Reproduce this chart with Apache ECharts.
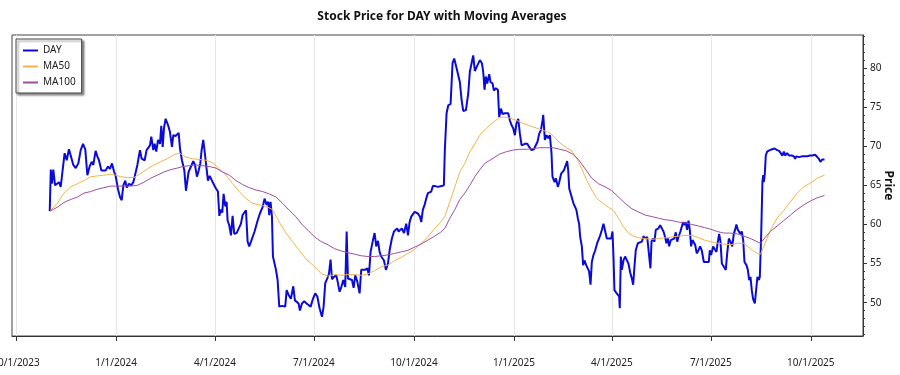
<!DOCTYPE html>
<html>
<head>
<meta charset="utf-8">
<script src="https://cdn.jsdelivr.net/npm/echarts@6/dist/echarts.min.js"></script>
<style>
  html, body { margin: 0; padding: 0; background: #fff; }
  #main { width: 900px; height: 375px; }
</style>
</head>
<body>
<div id="main"></div>
<script>
// day offsets are counted from 10/1/2023
const START = Date.UTC(2023, 9, 1);
const DAY_MS = 86400000;

const quarterTicks = ['2023-10-01', '2024-01-01', '2024-04-01', '2024-07-01', '2024-10-01',
  '2025-01-01', '2025-04-01', '2025-07-01', '2025-10-01'];
const priceTicks = [50, 55, 60, 65, 70, 75, 80];

const dayOffset = [
  31, 32, 33, 34.3, 35.9, 39.5, 41.1, 42.6, 44.7, 46.6, 48.7, 50.3, 52.7, 54.9, 57.3, 59.5, 61.6, 63.7,
  65.6, 67.7, 69.6, 71.1, 73.2, 74.8, 76.3, 78.5, 80.3, 82.4, 84.6, 86.4, 88.3, 90.1, 91.6, 93.8, 95.6,
  97.2, 98.7, 100.5, 101.8, 103.9, 106, 107.9, 109.1, 111.6, 114, 115.5, 117.1, 118.3, 120.1, 121.7,
  123.2, 124.4, 126.3, 127.5, 129, 130.6, 132.4, 133.6, 134.9, 136.1, 137.6, 139.8, 141.6, 143.4, 144.7,
  146.8, 149.6, 150.8, 152.6, 154.8, 156.3, 157.5, 158.7, 160.9, 163, 164.6, 166.4, 168, 169.5, 170.7,
  172.2, 173.5, 174.7, 176.5, 178.1, 180.2, 182.3, 183.9, 185.7, 187, 188.5, 189.7, 190.9, 192.5, 193.7,
  194.6, 196.1, 197.7, 199.2, 200.7, 202.9, 204.7, 206.9, 208.4, 209.9, 211.5, 213, 214.5, 216.1, 217.6,
  219.4, 220.7, 222.2, 224.3, 226.8, 228.6, 230.5, 232, 232.9, 234.1, 235.4, 236.3, 239.1, 240.6, 242.1,
  244.6, 247.6, 248.9, 250.7, 252.8, 255, 256.5, 258, 259.9, 261.1, 263, 265.1, 267.2, 268.5, 271, 273.1,
  275.2, 277.1, 279.2, 281.4, 282.9, 284.4, 286.3, 287.8, 289.3, 290.6, 292.4, 294.6, 296.1, 297.6, 299.2,
  301, 302.8, 304.1, 305.3, 307.1, 309, 310.5, 312, 313.9, 316, 317.5, 319.1, 321.2, 323.1, 324.6, 326.1,
  328.3, 329.8, 331.3, 332.9, 334.4, 335.9, 338.4, 340.2, 342.1, 343.6, 345.7, 347.6, 348.8, 350.6, 351.9,
  353.7, 354.9, 356.8, 358.9, 360.5, 362, 363.5, 365, 366.6, 368.1, 369.6, 371.5, 372.7, 374.2, 375.8,
  377.3, 378.8, 380.4, 381.9, 383.4, 385.6, 388, 391.4, 393.5, 394.4, 396, 397.5, 399.7, 401.5, 403,
  404.6, 406.7, 408.2, 409.8, 411.3, 413.8, 415.9, 417.4, 419, 420.5, 422, 423.6, 425.1, 426.6, 428.5,
  429.7, 430.9, 432.1, 433.4, 435.2, 436.4, 438.3, 439.5, 441.3, 443.2, 444.4, 446, 447.5, 449.6, 451.1,
  452.7, 454.2, 455.7, 457.3, 458.8, 460.3, 461.9, 463.4, 465, 466.5, 468, 470.2, 472, 474.1, 476.3,
  478.1, 479.7, 481.2, 482.7, 484.3, 484.9, 486.4, 488, 489.5, 491, 492.5, 493.4, 495.3, 496.5, 498.4,
  499.6, 501.4, 502.6, 503.9, 505.7, 506.9, 507.9, 508.8, 510.6, 512.7, 514.3, 515.5, 516.7, 517.9, 518.9,
  520.4, 521.6, 522.8, 524.4, 525.9, 527.1, 528.4, 529.6, 531.1, 532.7, 534.5, 535.7, 537.3, 538.8, 540.3,
  541.9, 543.4, 545.5, 547.4, 548.6, 549.5, 550.4, 552, 553.5, 554.7, 555.3, 556.3, 557.2, 558.7, 560.2,
  561.8, 563.3, 564.8, 566.4, 567.6, 568.8, 570, 571.9, 573.7, 575.6, 577.1, 578.6, 580.5, 582.3, 583.5,
  584.5, 585.7, 587.2, 588.4, 589.7, 590.9, 592.4, 594, 595.5, 597, 598.2, 599.5, 600.7, 602.2, 603.8,
  605.3, 606.8, 608.1, 609.3, 611.1, 612.3, 613.6, 614.8, 616, 617.2, 618.5, 619.7, 620.9, 622.2, 623.4,
  624.6, 626.1, 627.7, 629.2, 630.7, 632.6, 635.1, 637.2, 638.1, 639.3, 641.2, 642.7, 644.2, 645.5, 646.7,
  647.9, 649.2, 651, 652.8, 654.1, 655.6, 657.1, 658.7, 660.2, 661.7, 662.6, 663.9, 665.1, 666.3, 667.5,
  668.8, 670, 671.8, 673.1, 674.3, 675.5, 676.7, 677.9, 679.5, 680.7, 681.9, 683.2, 684.1, 685.3, 686.5,
  687.2, 687.8, 688.7, 689.6, 690.8, 693.3, 695.4, 697.6, 700, 701.9, 703.7, 704.9, 706.2, 707.4, 709.2,
  711.1, 713.5, 715.4, 716.6, 717.8, 720.3, 722.7, 725.2, 727.6, 730.1, 732.5, 735, 736.8, 738.3, 739.9,
  741.4, 743.6
];
const dayClose = [
  61.7, 67.0, 65.2, 67.0, 65.0, 65.4, 64.8, 64.6, 69.1, 68.2, 69.6, 69.8, 67.6, 67.2, 67.8, 69.5, 70.3, 69.6,
  66.3, 67.4, 68.0, 67.6, 69.4, 68.7, 68.2, 66.9, 67.1, 66.9, 67.4, 67.1, 67.8, 66.8, 66.2, 64.5, 63.5,
  63.1, 65.0, 65.6, 64.7, 65.2, 65.0, 65.4, 66.1, 67.6, 69.5, 68.4, 68.6, 68.2, 69.5, 69.5,
  70.1, 71.2, 69.5, 70.3, 69.3, 70.8, 70.3, 72.6, 69.9, 72.3, 73.5, 72.7, 71.8, 69.9, 71.4,
  71.3, 71.7, 69.7, 68.2, 66.9, 64.3, 64.3, 66.7, 67.4, 68.1, 67.6, 66.1, 66.9, 67.8, 69.5,
  70.8, 69.3, 67.8, 65.6, 66.2, 65.6, 65.0, 64.6, 64.2, 61.1, 61.9, 61.5, 63.9, 62.3, 62.9,
  60.5, 59.9, 58.6, 61.1, 58.8, 58.9, 59.1, 60.1, 61.2, 61.5, 61.8, 57.8, 57.2, 57.8, 58.0,
  59.1, 58.9, 60.5, 61.4, 62.2, 63.3, 62.5, 62.9, 61.2, 62.9, 61.0, 55.9, 54.2, 52.9, 49.5,
  49.6, 49.5, 51.6, 51.0, 50.5, 52.1, 50.3, 50.2, 49.9, 49.0, 49.9, 50.2, 49.9, 49.7, 49.5, 50.5,
  51.2, 50.8, 49.3, 48.2, 49.5, 52.5, 53.1, 53.7, 55.5, 53.0, 53.3, 53.5, 52.5, 51.4, 52.0,
  52.9, 52.0, 59.1, 53.1, 53.0, 52.9, 51.9, 53.5, 52.7, 51.2, 54.2, 54.3, 54.2, 54.4, 53.5, 56.5,
  58.0, 58.9, 57.2, 57.9, 56.5, 55.9, 55.4, 54.2, 55.0, 56.7, 58.2, 59.1, 59.3, 59.5, 59.1,
  59.1, 59.5, 58.9, 60.1, 58.6, 60.3, 61.0, 61.2, 61.6, 61.8, 61.4, 61.0, 60.3, 61.9, 62.5,
  63.3, 64.0, 63.8, 64.2, 64.9, 64.9, 64.8, 64.9, 65.0, 69.5, 74.2, 75.2, 75.4, 80.6, 81.2,
  80.3, 79.1, 78.2, 75.9, 74.5, 74.6, 76.7, 79.5, 80.6, 81.6, 79.6, 80.1, 80.3, 81.0, 80.6,
  79.5, 77.2, 78.9, 78.0, 79.2, 78.2, 78.0, 77.1, 77.4, 77.2, 73.7, 74.8, 74.1, 74.2, 74.0,
  74.2, 73.3, 72.7, 72.3, 71.4, 72.9, 73.5, 71.6, 70.1, 70.1, 70.3, 70.3, 69.9, 69.5, 69.6,
  69.6, 70.6, 71.6, 72.0, 73.3, 74.0, 70.8, 71.4, 71.0, 71.4, 69.1, 66.1, 65.4, 65.9, 64.8,
  65.4, 66.5, 66.7, 66.9, 67.6, 68.1, 66.9, 64.6, 64.5, 62.7, 62.2, 61.8, 60.8, 60.1, 58.4,
  57.2, 54.8, 55.4, 54.8, 54.6, 54.0, 52.3, 55.2, 56.1, 56.7, 57.6, 57.8, 58.6, 59.3, 60.1,
  59.9, 58.2, 58.2, 58.2, 59.1, 55.9, 51.6, 51.3, 51.2, 50.8, 49.3, 55.9, 54.2, 55.4, 55.9,
  56.1, 55.0, 53.9, 53.1, 52.3, 54.6, 56.7, 57.6, 57.4, 57.8, 58.5, 58.2, 58.4, 58.2, 54.4,
  57.8, 58.2, 57.8, 59.3, 59.1, 59.5, 59.9, 59.5, 59.1, 58.4, 57.6, 58.2, 57.2, 58.0, 57.8,
  58.2, 59.0, 57.8, 58.4, 59.1, 59.7, 60.3, 59.9, 60.3, 59.3, 60.5, 59.3, 57.2, 58.0, 58.2,
  57.4, 56.3, 56.7, 57.2, 56.7, 55.2, 55.2, 55.2, 56.7, 56.1, 57.2, 56.8, 56.5, 57.8, 58.8,
  57.8, 55.0, 54.8, 54.2, 56.3, 58.2, 57.8, 57.2, 58.8, 59.5, 60.0, 59.3, 59.5, 58.8, 59.1,
  58.0, 55.2, 54.8, 54.2, 52.9, 53.3, 51.6, 50.5, 49.9, 51.6, 53.3, 52.9, 53.3, 58.4, 65.4,
  66.3, 65.4, 66.5, 68.8, 69.3, 69.5, 69.6, 69.7, 69.5, 69.4, 69.3, 68.8, 69.3, 68.8, 69.1,
  68.8, 68.8, 68.7, 68.4, 68.7, 68.6, 68.7, 68.7, 68.7, 68.8, 68.8, 68.9, 68.8, 68.4, 68.0,
  68.3, 68.3
];

const ma50Offset = [
  31.3, 38, 44.1, 50.3, 56.4, 62.5, 68.6, 74.8, 80.9, 87, 91.6, 96.2, 102.4, 108.5, 114.6, 120.8, 126.9,
  133, 139.1, 145.3, 150.5, 156.3, 162.4, 168.6, 174.7, 180.8, 187, 193.1, 199.2, 205.3, 211.5, 217.6,
  223.7, 229.9, 236, 242.1, 248.3, 254.4, 260.5, 266.6, 274.6, 280.8, 286.9, 293, 299.2, 305.3, 311.4,
  317.5, 323.7, 329.8, 335.9, 342.1, 348.2, 354.3, 360.5, 366.6, 372.7, 378.8, 385, 390, 394.4, 399,
  403.6, 408.2, 412.8, 417.4, 422, 426.6, 431.2, 435.8, 440.4, 445, 449.6, 454.2, 460.3, 466.5, 472.6,
  478.7, 484.9, 491, 495.6, 500.2, 506.3, 511.2, 515.8, 520.4, 525, 529.6, 534.2, 538.8, 544.9, 549.5,
  554.1, 558.7, 563.3, 567.9, 572.5, 578.6, 584.8, 590.9, 597, 603.2, 609.3, 615.4, 621.5, 627.7, 633.2,
  638.7, 644.9, 651, 657.1, 663.3, 669.4, 675.5, 681.6, 684.7, 687.8, 693.9, 700, 706.2, 712.3, 718.4,
  724.5, 730.7, 736.8, 743.6
];
const ma50Value = [
  61.7, 62.7, 64.0, 64.8, 65.2, 65.6, 66.1, 66.2, 66.3, 66.4, 66.3, 66.1, 66.0, 66.0, 66.5, 67.1, 67.6,
  68.0, 68.4, 68.9, 69.1, 68.6, 68.4, 68.3, 68.2, 67.9, 67.1, 66.3, 65.2, 64.2, 63.3, 62.7,
  62.5, 62.3, 61.9, 60.3, 58.9, 57.8, 56.7, 55.6, 54.6, 53.7, 53.4, 53.6, 53.5, 53.6, 53.6,
  53.5, 53.7, 54.1, 54.6, 54.8, 55.4, 55.8, 56.3, 56.8, 57.6, 58.4, 59.5, 60.2, 61.0, 62.9,
  64.8, 66.7, 67.8, 69.3, 70.3, 71.4, 72.1, 72.7, 73.2, 73.7, 73.7, 73.6, 73.3, 72.9, 72.6,
  72.3, 72.0, 71.7, 71.1, 70.4, 69.8, 69.4, 68.4, 67.1, 65.6, 64.4, 63.3, 62.8, 62.2, 61.8,
  60.8, 59.7, 58.9, 58.5, 58.3, 58.2, 58.1, 58.2, 58.3, 58.4, 58.5, 58.6, 58.6, 58.3, 58.0,
  57.8, 57.6, 57.5, 57.4, 57.6, 57.6, 56.9, 56.3, 56.2, 57.2, 59.3, 60.8, 61.8, 62.9, 64.0,
  64.8, 65.3, 65.9, 66.3
];

const ma100Offset = [
  31.3, 38, 44.1, 50.3, 56.4, 62.5, 68.6, 74.8, 80.9, 87, 93.2, 99.3, 105.4, 111.6, 117.7, 123.8, 130,
  136.1, 142.2, 148.3, 153.2, 159.4, 165.5, 171.6, 177.8, 183.9, 190, 196.1, 202.3, 208.4, 214.5, 220.7,
  226.8, 232.9, 239.1, 245.2, 251.3, 257.4, 263.6, 269, 274.6, 280.8, 286.9, 293, 299.2, 305.3, 311.4,
  317.5, 323.7, 329.8, 335.9, 342.1, 348.2, 354.3, 360.5, 366.6, 372.7, 378.8, 385, 390.5, 394.4, 399,
  403.6, 408.2, 412.8, 417.4, 422, 426.6, 431.2, 435.8, 440.4, 445, 451.1, 457.3, 463.4, 469.5, 475.7,
  481.8, 487.9, 494.1, 500.2, 506.3, 511.8, 517.3, 523.5, 529.6, 535.7, 541.9, 548, 554.1, 560.2, 566.4,
  572.5, 578.6, 584.8, 590.9, 597, 603.2, 609.3, 615.4, 621.5, 627.7, 633.2, 638.7, 644.9, 651, 657.1,
  663.3, 669.4, 675.5, 681.6, 684.7, 689.3, 693.9, 700, 706.2, 712.3, 718.4, 724.5, 730.7, 736.8, 743.6
];
const ma100Value = [
  61.7, 62.2, 62.8, 63.2, 63.5, 64.0, 64.2, 64.5, 64.7, 64.9, 64.9, 64.9, 64.9, 65.0, 65.4, 65.9, 66.3,
  66.7, 67.0, 67.2, 67.4, 67.5, 67.6, 67.5, 67.4, 67.2, 66.7, 66.3, 65.6, 65.1, 64.7, 64.4,
  64.2, 63.9, 63.5, 62.7, 61.8, 61.0, 59.9, 59.2, 58.4, 57.8, 57.4, 56.9, 56.6, 56.4, 56.2,
  56.0, 55.9, 55.9, 56.0, 56.1, 56.3, 56.5, 56.7, 57.1, 57.5, 58.0, 58.5, 59.0, 59.5, 60.8,
  61.9, 63.2, 64.0, 65.0, 66.1, 67.0, 67.8, 68.2, 68.6, 69.0, 69.3, 69.5, 69.6, 69.6, 69.7,
  69.8, 69.8, 69.8, 69.6, 69.4, 69.0, 68.3, 67.1, 65.9, 65.2, 64.8, 64.3, 63.5, 62.7, 62.0,
  61.6, 61.2, 61.0, 60.8, 60.6, 60.5, 60.3, 60.2, 60.0, 59.8, 59.6, 59.4, 59.1, 58.9, 58.9,
  58.8, 58.5, 58.2, 57.8, 57.6, 58.4, 59.1, 59.8, 60.5, 61.2, 61.9, 62.5, 63.0, 63.4, 63.7
];

function toTs(d) {
  return START + d * DAY_MS;
}
function pairs(xs, ys) {
  return xs.map((d, i) => [toTs(d), ys[i]]);
}

const minorTicks = [];
for (let v = 46; v <= 84; v++) minorTicks.push(v);

const quarterTs = quarterTicks.map(s => new Date(s + 'T00:00:00Z').getTime());
const font = 'Noto Sans';

var chart = echarts.init(document.getElementById('main'));
var option = {
  animation: false,
  textStyle: { fontFamily: font },
  title: {
    text: 'Stock Price for DAY with Moving Averages',
    left: 437,
    top: 6,
    textAlign: 'center',
    textStyle: { fontSize: 12, fontWeight: 'bold', color: '#111', fontFamily: font }
  },
  legend: {
    orient: 'vertical',
    left: 16,
    top: 39,
    padding: [6, 6, 5, 7],
    itemGap: 5,
    itemWidth: 15,
    itemHeight: 2,
    icon: 'rect',
    backgroundColor: '#fff',
    borderColor: '#444',
    borderWidth: 1,
    shadowColor: 'rgba(0,0,0,0.45)',
    shadowBlur: 2,
    shadowOffsetX: 2,
    shadowOffsetY: 2,
    textStyle: { fontSize: 10, color: '#222', fontFamily: font, lineHeight: 11 },
    data: ['DAY', 'MA50', 'MA100']
  },
  grid: {
    left: 12,
    right: 37,
    top: 35,
    bottom: 39,
    outerBoundsMode: 'none',
    containLabel: false,
    show: true,
    borderColor: '#444',
    borderWidth: 1
  },
  xAxis: {
    type: 'value',
    min: toTs(-3.7),
    max: toTs(779),
    axisLine: { lineStyle: { color: '#333' } },
    axisTick: { customValues: quarterTs, length: 5, lineStyle: { color: '#333' } },
    splitLine: { show: true, lineStyle: { color: '#e6e6e6', width: 1 } },
    axisLabel: {
      customValues: quarterTs,
      margin: 22,
      fontSize: 10,
      color: '#222',
      hideOverlap: false,
      showMinLabel: true,
      showMaxLabel: true,
      formatter: function (val) {
        const d = new Date(val);
        return (d.getUTCMonth() + 1) + '/' + d.getUTCDate() + '/' + d.getUTCFullYear();
      }
    }
  },
  yAxis: [
    {
      type: 'value',
      position: 'right',
      min: 45.75,
      max: 84.2,
      name: 'Price',
      nameLocation: 'middle',
      nameRotate: -90,
      nameGap: 19,
      nameMoveOverlap: false,
      nameTextStyle: { fontSize: 12, fontWeight: 'bold', color: '#111', fontFamily: font },
      axisLine: { show: true, lineStyle: { color: '#333' } },
      axisTick: { show: true, customValues: priceTicks, length: 4, lineStyle: { color: '#333' } },
      axisLabel: { customValues: priceTicks, margin: 7, fontSize: 10, color: '#222' },
      splitLine: { show: false }
    },
    {
      type: 'value',
      position: 'right',
      min: 45.75,
      max: 84.2,
      axisLine: { show: false },
      axisTick: { show: true, customValues: minorTicks, length: 2, lineStyle: { color: '#333' } },
      axisLabel: { show: false },
      splitLine: { show: false }
    }
  ],
  series: [
    {
      name: 'DAY',
      type: 'line',
      data: pairs(dayOffset, dayClose),
      showSymbol: false,
      symbol: 'none',
      lineStyle: { width: 2, color: '#0b0bd6' },
      itemStyle: { color: '#0b0bd6' },
      z: 2
    },
    {
      name: 'MA50',
      type: 'line',
      data: pairs(ma50Offset, ma50Value),
      showSymbol: false,
      symbol: 'none',
      lineStyle: { width: 1, color: '#f2b34a' },
      itemStyle: { color: '#f2b34a' },
      z: 3
    },
    {
      name: 'MA100',
      type: 'line',
      data: pairs(ma100Offset, ma100Value),
      showSymbol: false,
      symbol: 'none',
      lineStyle: { width: 1, color: '#9c4e9f' },
      itemStyle: { color: '#9c4e9f' },
      z: 3
    }
  ]
};
option && chart.setOption(option);
</script>
</body>
</html>
